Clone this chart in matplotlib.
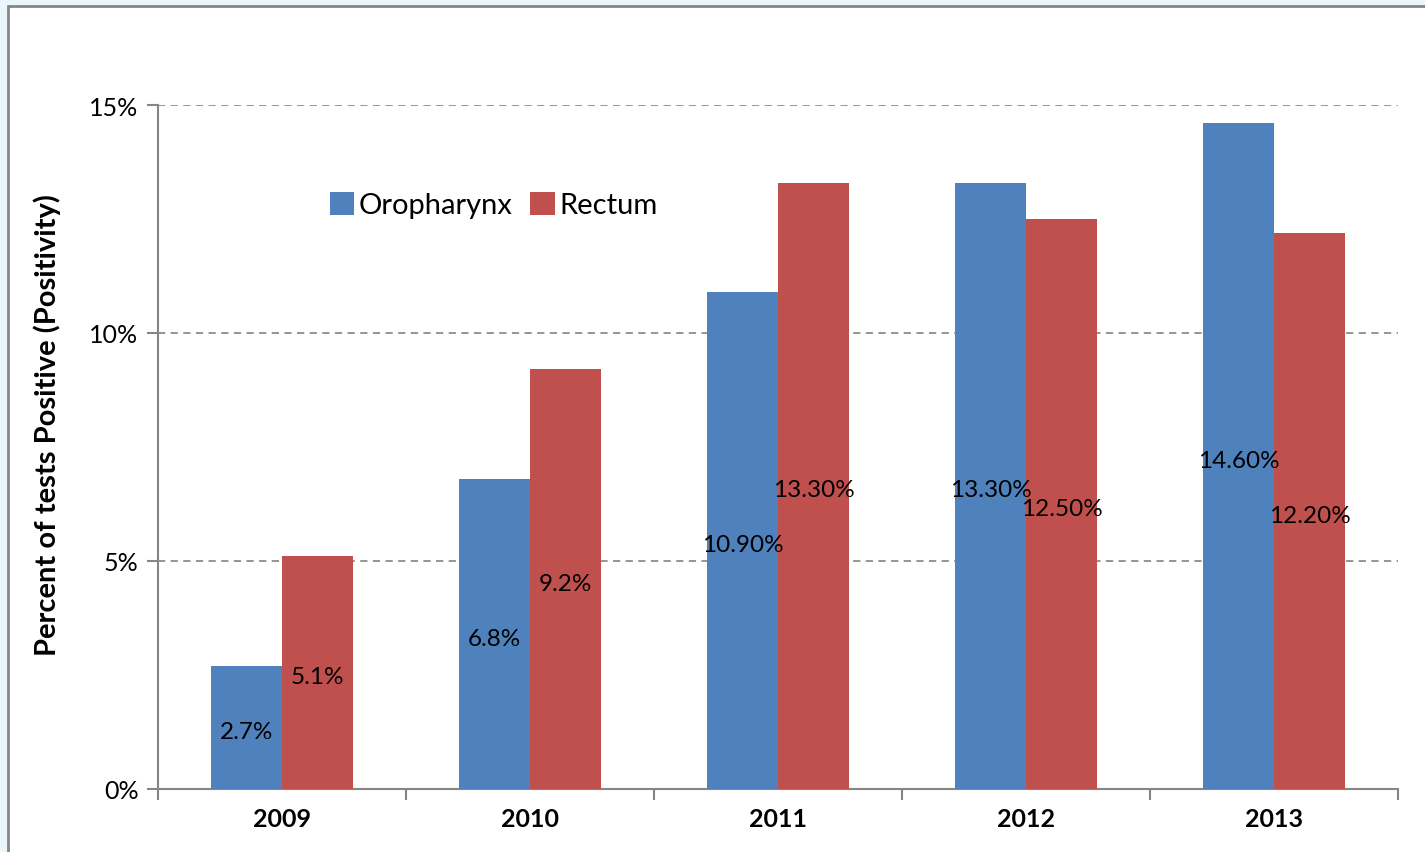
import matplotlib
matplotlib.use("Agg")
import matplotlib.pyplot as plt
from matplotlib.patches import Rectangle
import numpy as np

years = ["2009", "2010", "2011", "2012", "2013"]
oropharynx = [2.7, 6.8, 10.9, 13.3, 14.6]
rectum = [5.1, 9.2, 13.3, 12.5, 12.2]
oro_labels = ["2.7%", "6.8%", "10.90%", "13.30%", "14.60%"]
rec_labels = ["5.1%", "9.2%", "13.30%", "12.50%", "12.20%"]
yticks = [0, 5, 10, 15]
ytick_labels = ["0%", "5%", "10%", "15%"]

plt.rcParams['font.family'] = ['Lato', 'DejaVu Sans']

W, H = 1425, 853
fig = plt.figure(figsize=(W / 100, H / 100), dpi=100)
fig.patch.set_facecolor("#EAF6FB")
fig.patches.append(Rectangle((8 / W, -0.2), 1.2, 1.2 - 7 / H, transform=fig.transFigure,
                             facecolor="white", edgecolor="#868686", linewidth=2, zorder=-10))

ax = fig.add_axes([158 / W, 1 - 790 / H, (1398 - 158) / W, (790 - 106) / H])
ax.set_facecolor("none")

blue = "#4F81BD"
red = "#C0504D"
x = np.arange(len(years))
bw = 0.286
ax.bar(x - bw / 2, oropharynx, bw, color=blue, label="Oropharynx", zorder=3)
ax.bar(x + bw / 2, rectum, bw, color=red, label="Rectum", zorder=3)

for xi, v, lab in zip(x, oropharynx, oro_labels):
    ax.annotate(lab, (xi - bw / 2, v / 2), xytext=(0, -3), textcoords="offset points",
                ha="center", va="center", fontsize=17.5, color="black", zorder=4)
for xi, v, lab in zip(x, rectum, rec_labels):
    ax.annotate(lab, (xi + bw / 2, v / 2), xytext=(0, -3), textcoords="offset points",
                ha="center", va="center", fontsize=17.5, color="black", zorder=4)

ax.set_xlim(-0.5, len(years) - 0.5)
ax.set_ylim(0, 15)
ax.set_yticks(yticks)
ax.set_yticklabels(ytick_labels, fontsize=18)
ax.yaxis.grid(True, linestyle=(0, (4, 3)), color="#8C8C8C", linewidth=1.3, zorder=0)
ax.set_xticks(np.arange(-0.5, len(years), 1.0))
ax.set_xticklabels([])
ax.set_xticks(x, minor=True)
ax.set_xticklabels(years, minor=True, fontsize=18, fontweight="bold")
ax.tick_params(axis="x", which="minor", length=0, pad=13)
ax.tick_params(axis="x", which="major", length=8, color="#868686", width=1.5, direction="out")
ax.tick_params(axis="y", length=8, color="#868686", width=1.5, direction="out", pad=6)

for s in ["top", "right"]:
    ax.spines[s].set_visible(False)
for s in ["left", "bottom"]:
    ax.spines[s].set_color("#868686")
    ax.spines[s].set_linewidth(1.5)

ax.legend(loc="upper left", bbox_to_anchor=((318 - 158) / (1398 - 158), (790 - 181) / (790 - 106)),
          ncol=2, frameon=False, fontsize=21, handlelength=0.85, handleheight=0.85,
          handletextpad=0.15, columnspacing=0.6, borderaxespad=0)

fig.text(47 / W, 1 - 425 / H, "Percent of tests Positive (Positivity)", rotation=90,
         ha="center", va="center", fontsize=21, fontweight="bold")

fig.savefig("out.png", dpi=100, facecolor=fig.get_facecolor())
